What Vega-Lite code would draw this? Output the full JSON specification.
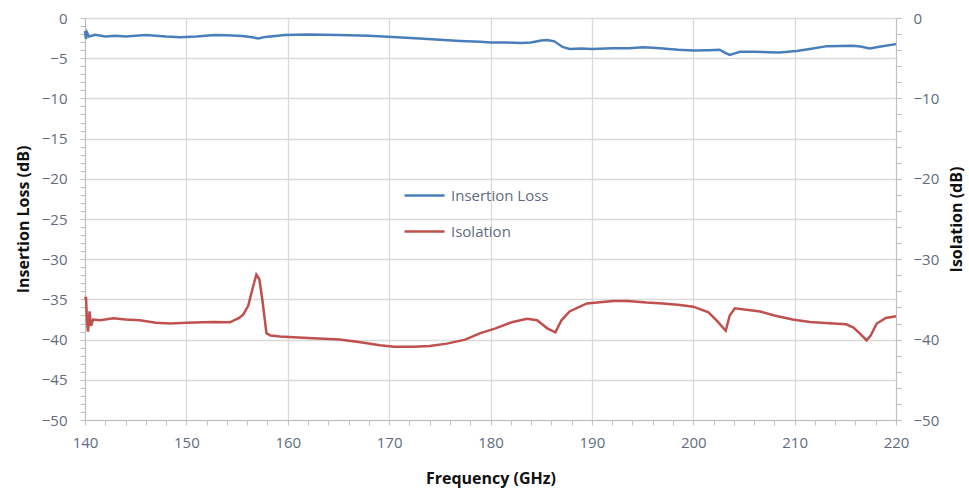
{
  "$schema": "https://vega.github.io/schema/vega-lite/v6.json",
  "width": 811,
  "height": 402,
  "autosize": {"type": "none"},
  "padding": {"left": 85, "top": 18, "right": 73, "bottom": 69},
  "background": "white",
  "config": {
    "view": {"stroke": "#d9d9d9"},
    "axis": {
      "labelFont": "Open Sans", "labelFontSize": 15, "labelColor": "#5f6b80",
      "titleFont": "Open Sans", "titleFontSize": 16, "titleFontWeight": "bold", "titleColor": "#111111",
      "domainColor": "#bfbfbf", "tickColor": "#bfbfbf", "gridColor": "#d9d9d9", "gridWidth": 1.3
    },
    "legend": {"labelFont": "Open Sans", "labelFontSize": 15, "labelColor": "#5f6b80"}
  },
  "data": {"values": [
    {"s": "Insertion Loss", "f": 140, "v": -1.6},
    {"s": "Insertion Loss", "f": 140.1, "v": -2.6},
    {"s": "Insertion Loss", "f": 140.2, "v": -1.8},
    {"s": "Insertion Loss", "f": 140.4, "v": -2.3},
    {"s": "Insertion Loss", "f": 141, "v": -2.1},
    {"s": "Insertion Loss", "f": 142, "v": -2.3},
    {"s": "Insertion Loss", "f": 143, "v": -2.2},
    {"s": "Insertion Loss", "f": 144, "v": -2.3},
    {"s": "Insertion Loss", "f": 145, "v": -2.2},
    {"s": "Insertion Loss", "f": 146, "v": -2.1},
    {"s": "Insertion Loss", "f": 147, "v": -2.2},
    {"s": "Insertion Loss", "f": 148, "v": -2.3},
    {"s": "Insertion Loss", "f": 149.4, "v": -2.4},
    {"s": "Insertion Loss", "f": 151, "v": -2.3},
    {"s": "Insertion Loss", "f": 152.8, "v": -2.1},
    {"s": "Insertion Loss", "f": 154, "v": -2.15},
    {"s": "Insertion Loss", "f": 155.5, "v": -2.25},
    {"s": "Insertion Loss", "f": 156.5, "v": -2.4},
    {"s": "Insertion Loss", "f": 157.1, "v": -2.55},
    {"s": "Insertion Loss", "f": 157.8, "v": -2.35},
    {"s": "Insertion Loss", "f": 159.7, "v": -2.1},
    {"s": "Insertion Loss", "f": 162, "v": -2.05},
    {"s": "Insertion Loss", "f": 165, "v": -2.1},
    {"s": "Insertion Loss", "f": 168, "v": -2.2},
    {"s": "Insertion Loss", "f": 170.8, "v": -2.4},
    {"s": "Insertion Loss", "f": 173, "v": -2.55},
    {"s": "Insertion Loss", "f": 175, "v": -2.7},
    {"s": "Insertion Loss", "f": 177, "v": -2.85},
    {"s": "Insertion Loss", "f": 179, "v": -2.95},
    {"s": "Insertion Loss", "f": 180, "v": -3.05},
    {"s": "Insertion Loss", "f": 181.5, "v": -3.05},
    {"s": "Insertion Loss", "f": 183, "v": -3.1},
    {"s": "Insertion Loss", "f": 184, "v": -3.05},
    {"s": "Insertion Loss", "f": 185, "v": -2.8},
    {"s": "Insertion Loss", "f": 185.6, "v": -2.75},
    {"s": "Insertion Loss", "f": 186.3, "v": -2.9},
    {"s": "Insertion Loss", "f": 187.1, "v": -3.6},
    {"s": "Insertion Loss", "f": 187.8, "v": -3.85},
    {"s": "Insertion Loss", "f": 189, "v": -3.8},
    {"s": "Insertion Loss", "f": 190, "v": -3.85},
    {"s": "Insertion Loss", "f": 192, "v": -3.75},
    {"s": "Insertion Loss", "f": 193.7, "v": -3.75},
    {"s": "Insertion Loss", "f": 195, "v": -3.65},
    {"s": "Insertion Loss", "f": 196, "v": -3.7},
    {"s": "Insertion Loss", "f": 197, "v": -3.8},
    {"s": "Insertion Loss", "f": 198.5, "v": -3.95},
    {"s": "Insertion Loss", "f": 200, "v": -4.05},
    {"s": "Insertion Loss", "f": 201.5, "v": -4.0},
    {"s": "Insertion Loss", "f": 202.6, "v": -3.95},
    {"s": "Insertion Loss", "f": 203.1, "v": -4.3},
    {"s": "Insertion Loss", "f": 203.6, "v": -4.6},
    {"s": "Insertion Loss", "f": 204.1, "v": -4.4},
    {"s": "Insertion Loss", "f": 204.6, "v": -4.2},
    {"s": "Insertion Loss", "f": 206, "v": -4.2},
    {"s": "Insertion Loss", "f": 207.5, "v": -4.25},
    {"s": "Insertion Loss", "f": 208.5, "v": -4.3},
    {"s": "Insertion Loss", "f": 210.2, "v": -4.1},
    {"s": "Insertion Loss", "f": 211.5, "v": -3.85},
    {"s": "Insertion Loss", "f": 213.2, "v": -3.5},
    {"s": "Insertion Loss", "f": 215.7, "v": -3.45},
    {"s": "Insertion Loss", "f": 216.5, "v": -3.55},
    {"s": "Insertion Loss", "f": 217.4, "v": -3.8},
    {"s": "Insertion Loss", "f": 218.5, "v": -3.55},
    {"s": "Insertion Loss", "f": 220, "v": -3.25},
    {"s": "Isolation", "f": 140, "v": -35.0},
    {"s": "Isolation", "f": 140.1, "v": -34.7},
    {"s": "Isolation", "f": 140.2, "v": -37.8},
    {"s": "Isolation", "f": 140.3, "v": -39.0},
    {"s": "Isolation", "f": 140.45, "v": -36.5},
    {"s": "Isolation", "f": 140.6, "v": -38.3},
    {"s": "Isolation", "f": 140.8, "v": -37.5},
    {"s": "Isolation", "f": 141.5, "v": -37.6},
    {"s": "Isolation", "f": 142.8, "v": -37.35},
    {"s": "Isolation", "f": 144, "v": -37.5},
    {"s": "Isolation", "f": 145.4, "v": -37.6},
    {"s": "Isolation", "f": 147, "v": -37.9},
    {"s": "Isolation", "f": 148.4, "v": -38.0},
    {"s": "Isolation", "f": 150, "v": -37.9},
    {"s": "Isolation", "f": 152.6, "v": -37.8},
    {"s": "Isolation", "f": 154.3, "v": -37.85},
    {"s": "Isolation", "f": 155.2, "v": -37.3},
    {"s": "Isolation", "f": 155.6, "v": -36.9},
    {"s": "Isolation", "f": 156.1, "v": -35.8},
    {"s": "Isolation", "f": 156.5, "v": -33.8},
    {"s": "Isolation", "f": 156.9, "v": -31.9},
    {"s": "Isolation", "f": 157.2, "v": -32.5},
    {"s": "Isolation", "f": 157.5, "v": -35.1},
    {"s": "Isolation", "f": 157.9, "v": -39.2},
    {"s": "Isolation", "f": 158.3, "v": -39.5},
    {"s": "Isolation", "f": 159.2, "v": -39.6},
    {"s": "Isolation", "f": 162, "v": -39.8},
    {"s": "Isolation", "f": 165.1, "v": -40.0},
    {"s": "Isolation", "f": 167, "v": -40.3},
    {"s": "Isolation", "f": 169.1, "v": -40.7},
    {"s": "Isolation", "f": 170.5, "v": -40.9},
    {"s": "Isolation", "f": 172.4, "v": -40.9},
    {"s": "Isolation", "f": 174, "v": -40.8},
    {"s": "Isolation", "f": 175.7, "v": -40.5},
    {"s": "Isolation", "f": 177.5, "v": -40.0},
    {"s": "Isolation", "f": 179, "v": -39.2},
    {"s": "Isolation", "f": 180.5, "v": -38.6},
    {"s": "Isolation", "f": 182.2, "v": -37.8},
    {"s": "Isolation", "f": 183.6, "v": -37.4},
    {"s": "Isolation", "f": 184.6, "v": -37.6},
    {"s": "Isolation", "f": 185.6, "v": -38.6},
    {"s": "Isolation", "f": 186.4, "v": -39.1},
    {"s": "Isolation", "f": 187, "v": -37.6},
    {"s": "Isolation", "f": 187.8, "v": -36.5},
    {"s": "Isolation", "f": 189.5, "v": -35.5},
    {"s": "Isolation", "f": 192.1, "v": -35.2},
    {"s": "Isolation", "f": 193.5, "v": -35.2},
    {"s": "Isolation", "f": 195.4, "v": -35.4},
    {"s": "Isolation", "f": 197, "v": -35.5},
    {"s": "Isolation", "f": 198.7, "v": -35.7},
    {"s": "Isolation", "f": 200, "v": -35.9},
    {"s": "Isolation", "f": 201.5, "v": -36.6},
    {"s": "Isolation", "f": 202.3, "v": -37.6},
    {"s": "Isolation", "f": 203.2, "v": -38.9},
    {"s": "Isolation", "f": 203.6, "v": -37.0},
    {"s": "Isolation", "f": 204.1, "v": -36.1},
    {"s": "Isolation", "f": 206.6, "v": -36.5},
    {"s": "Isolation", "f": 208, "v": -37.0},
    {"s": "Isolation", "f": 209.8, "v": -37.5},
    {"s": "Isolation", "f": 211.5, "v": -37.8},
    {"s": "Isolation", "f": 213.8, "v": -38.0},
    {"s": "Isolation", "f": 215.1, "v": -38.1},
    {"s": "Isolation", "f": 215.8, "v": -38.5},
    {"s": "Isolation", "f": 216.4, "v": -39.2},
    {"s": "Isolation", "f": 217.1, "v": -40.1},
    {"s": "Isolation", "f": 217.5, "v": -39.5},
    {"s": "Isolation", "f": 218.1, "v": -38.0},
    {"s": "Isolation", "f": 219, "v": -37.3},
    {"s": "Isolation", "f": 220, "v": -37.1}
  ]},
  "encoding": {
    "x": {
      "field": "f", "type": "quantitative",
      "scale": {"domain": [140, 220], "nice": false, "zero": false},
      "axis": {
        "title": "Frequency (GHz)",
        "values": [140,142,144,146,148,150,152,154,156,158,160,162,164,166,168,170,172,174,176,178,180,182,184,186,188,190,192,194,196,198,200,202,204,206,208,210,212,214,216,218,220],
        "labelExpr": "datum.value % 10 === 0 ? datum.label : ''",
        "grid": true,
        "gridOpacity": {"condition": {"test": "datum.value % 10 === 0", "value": 1}, "value": 0},
        "tickSize": 5,
        "labelPadding": 10,
        "titlePadding": 20,
        "labelFlush": false
      }
    },
    "color": {
      "field": "s", "type": "nominal",
      "scale": {"domain": ["Insertion Loss", "Isolation"], "range": ["#4a7ebb", "#c0504d"]},
      "legend": {
        "title": null, "orient": "none", "legendX": 318, "legendY": 156,
        "symbolType": "stroke", "symbolSize": 1600, "symbolStrokeWidth": 2.5,
        "labelOffset": 5, "rowPadding": 6
      }
    }
  },
  "layer": [
    {
      "transform": [{"filter": "datum.s === 'Insertion Loss'"}],
      "mark": {"type": "line", "strokeWidth": 2.5},
      "encoding": {
        "y": {
          "field": "v", "type": "quantitative",
          "scale": {"domain": [-50, 0], "nice": false},
          "axis": {
            "orient": "left",
            "title": "Insertion Loss (dB)",
            "values": [-50,-49,-48,-47,-46,-45,-44,-43,-42,-41,-40,-39,-38,-37,-36,-35,-34,-33,-32,-31,-30,-29,-28,-27,-26,-25,-24,-23,-22,-21,-20,-19,-18,-17,-16,-15,-14,-13,-12,-11,-10,-9,-8,-7,-6,-5,-4,-3,-2,-1,0],
            "labelExpr": "datum.value % 5 === 0 ? datum.label : ''",
            "grid": true,
            "gridOpacity": {"condition": {"test": "datum.value % 5 === 0", "value": 1}, "value": 0},
            "tickSize": 5,
            "labelPadding": 13,
            "titlePadding": 10
          }
        }
      }
    },
    {
      "transform": [{"filter": "datum.s === 'Isolation'"}],
      "mark": {"type": "line", "strokeWidth": 2.5},
      "encoding": {
        "y": {
          "field": "v", "type": "quantitative",
          "scale": {"domain": [-50, 0], "nice": false},
          "axis": {
            "orient": "right",
            "title": "Isolation (dB)",
            "titleAngle": 270,
            "titleBaseline": "bottom",
            "values": [-50,-48,-46,-44,-42,-40,-38,-36,-34,-32,-30,-28,-26,-24,-22,-20,-18,-16,-14,-12,-10,-8,-6,-4,-2,0],
            "labelExpr": "datum.value % 10 === 0 ? datum.label : ''",
            "grid": false,
            "tickSize": 5,
            "labelPadding": 12,
            "titlePadding": 26
          }
        }
      }
    }
  ],
  "resolve": {"scale": {"y": "independent"}}
}
